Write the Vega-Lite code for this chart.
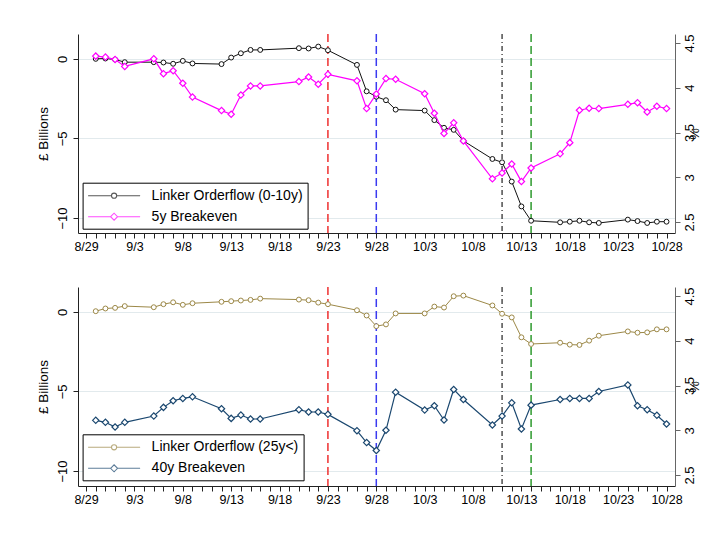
{
  "$schema": "https://vega.github.io/schema/vega-lite/v6.json",
  "background": "white",
  "padding": {"top": 33, "left": 36, "right": 0, "bottom": 0},
  "config": {
    "font": "Liberation Sans",
    "view": {"stroke": null},
    "axis": {"labelFont": "Liberation Sans", "titleFont": "Liberation Sans", "titleFontWeight": "normal", "labelColor": "#000", "titleColor": "#000", "domainColor": "#222", "tickColor": "#222", "tickSize": 5},
    "legend": {"labelFont": "Liberation Sans"}
  },
  "datasets": {
    "d": [
      {"date": "2022-08-30", "lo10": 0.0, "be5": 4.353, "lo25": 0.04, "be40": 3.111},
      {"date": "2022-08-31", "lo10": 0.02, "be5": 4.342, "lo25": 0.21, "be40": 3.089},
      {"date": "2022-09-01", "lo10": -0.04, "be5": 4.316, "lo25": 0.25, "be40": 3.037},
      {"date": "2022-09-02", "lo10": -0.21, "be5": 4.238, "lo25": 0.36, "be40": 3.089},
      {"date": "2022-09-05", "lo10": -0.21, "be5": 4.323, "lo25": 0.29, "be40": 3.159},
      {"date": "2022-09-06", "lo10": -0.23, "be5": 4.157, "lo25": 0.48, "be40": 3.256},
      {"date": "2022-09-07", "lo10": -0.31, "be5": 4.19, "lo25": 0.6, "be40": 3.33},
      {"date": "2022-09-08", "lo10": -0.13, "be5": 4.05, "lo25": 0.44, "be40": 3.356},
      {"date": "2022-09-09", "lo10": -0.29, "be5": 3.896, "lo25": 0.54, "be40": 3.374},
      {"date": "2022-09-12", "lo10": -0.33, "be5": 3.745, "lo25": 0.63, "be40": 3.241},
      {"date": "2022-09-13", "lo10": 0.08, "be5": 3.704, "lo25": 0.67, "be40": 3.133},
      {"date": "2022-09-14", "lo10": 0.35, "be5": 3.918, "lo25": 0.71, "be40": 3.17},
      {"date": "2022-09-15", "lo10": 0.56, "be5": 4.02, "lo25": 0.75, "be40": 3.126},
      {"date": "2022-09-16", "lo10": 0.56, "be5": 4.02, "lo25": 0.83, "be40": 3.126},
      {"date": "2022-09-20", "lo10": 0.67, "be5": 4.069, "lo25": 0.77, "be40": 3.23},
      {"date": "2022-09-21", "lo10": 0.65, "be5": 4.12, "lo25": 0.73, "be40": 3.204},
      {"date": "2022-09-22", "lo10": 0.77, "be5": 4.04, "lo25": 0.58, "be40": 3.204},
      {"date": "2022-09-23", "lo10": 0.54, "be5": 4.15, "lo25": 0.48, "be40": 3.178},
      {"date": "2022-09-26", "lo10": -0.38, "be5": 4.077, "lo25": 0.1, "be40": 2.996},
      {"date": "2022-09-27", "lo10": -2.04, "be5": 3.767, "lo25": -0.23, "be40": 2.863},
      {"date": "2022-09-28", "lo10": -2.38, "be5": 3.93, "lo25": -0.9, "be40": 2.774},
      {"date": "2022-09-29", "lo10": -2.6, "be5": 4.102, "lo25": -0.79, "be40": 3.0},
      {"date": "2022-09-30", "lo10": -3.19, "be5": 4.095, "lo25": -0.1, "be40": 3.426},
      {"date": "2022-10-03", "lo10": -3.25, "be5": 3.933, "lo25": -0.1, "be40": 3.226},
      {"date": "2022-10-04", "lo10": -3.85, "be5": 3.715, "lo25": 0.33, "be40": 3.274},
      {"date": "2022-10-05", "lo10": -4.33, "be5": 3.49, "lo25": 0.27, "be40": 3.115},
      {"date": "2022-10-06", "lo10": -4.46, "be5": 3.608, "lo25": 0.98, "be40": 3.456},
      {"date": "2022-10-07", "lo10": -5.15, "be5": 3.406, "lo25": 1.02, "be40": 3.344},
      {"date": "2022-10-10", "lo10": -6.29, "be5": 2.983, "lo25": 0.4, "be40": 3.059},
      {"date": "2022-10-11", "lo10": -6.5, "be5": 3.049, "lo25": -0.12, "be40": 3.159},
      {"date": "2022-10-12", "lo10": -7.71, "be5": 3.148, "lo25": -0.35, "be40": 3.307},
      {"date": "2022-10-13", "lo10": -9.27, "be5": 2.953, "lo25": -1.6, "be40": 3.015},
      {"date": "2022-10-14", "lo10": -10.17, "be5": 3.104, "lo25": -2.02, "be40": 3.281},
      {"date": "2022-10-17", "lo10": -10.27, "be5": 3.262, "lo25": -1.94, "be40": 3.344},
      {"date": "2022-10-18", "lo10": -10.23, "be5": 3.387, "lo25": -2.06, "be40": 3.356},
      {"date": "2022-10-19", "lo10": -10.17, "be5": 3.749, "lo25": -2.08, "be40": 3.356},
      {"date": "2022-10-20", "lo10": -10.27, "be5": 3.771, "lo25": -1.81, "be40": 3.356},
      {"date": "2022-10-21", "lo10": -10.31, "be5": 3.767, "lo25": -1.5, "be40": 3.433},
      {"date": "2022-10-24", "lo10": -10.1, "be5": 3.815, "lo25": -1.23, "be40": 3.507},
      {"date": "2022-10-25", "lo10": -10.19, "be5": 3.833, "lo25": -1.31, "be40": 3.274},
      {"date": "2022-10-26", "lo10": -10.31, "be5": 3.73, "lo25": -1.29, "be40": 3.23},
      {"date": "2022-10-27", "lo10": -10.23, "be5": 3.793, "lo25": -1.1, "be40": 3.167},
      {"date": "2022-10-28", "lo10": -10.23, "be5": 3.767, "lo25": -1.1, "be40": 3.07}
    ],
    "events": [
      {"date": "2022-09-23", "event": "Mini-budget"},
      {"date": "2022-09-28", "event": "BoE intervention"},
      {"date": "2022-10-11", "event": "Linkers added"},
      {"date": "2022-10-14", "event": "Intervention ends"}
    ]
  },
  "spacing": 33,
  "resolve": {"scale": {"y": "independent", "color": "independent", "shape": "independent"}, "legend": {"color": "independent", "shape": "independent"}},
  "vconcat": [
    {
      "width": 597,
      "height": 199,
      "resolve": {"scale": {"y": "independent"}, "axis": {"y": "independent"}},
      "encoding": {
        "x": {
          "field": "date", "type": "temporal",
          "scale": {"type": "utc", "domain": [{"year": 2022, "month": 8, "date": 28, "hours": 4, "utc": true}, {"year": 2022, "month": 10, "date": 28, "hours": 21, "utc": true}], "nice": false},
          "axis": {"title": null, "tickCount": {"interval": "day", "step": 1}, "labelOverlap": false, "labelFlush": false, "labelFontSize": 12.5, "labelPadding": 2, "grid": false,
                   "labelExpr": "(round((datum.value - 1661731200000) / 86400000) % 5 == 0) ? utcFormat(datum.value, '%-m/%-d') : ''"}
        }
      },
      "layer": [
        {"data": {"name": "events"}, "transform": [{"filter": "datum.event == 'Mini-budget'"}], "mark": {"type": "rule", "color": "#ee3030", "strokeWidth": 1.5, "strokeDash": [8, 4]}, "encoding": {}},
        {"data": {"name": "events"}, "transform": [{"filter": "datum.event == 'BoE intervention'"}], "mark": {"type": "rule", "color": "#3a3af0", "strokeWidth": 1.5, "strokeDash": [8, 4]}, "encoding": {}},
        {"data": {"name": "events"}, "transform": [{"filter": "datum.event == 'Linkers added'"}], "mark": {"type": "rule", "color": "#222", "strokeWidth": 1.2, "strokeDash": [5, 3, 1, 3]}, "encoding": {}},
        {"data": {"name": "events"}, "transform": [{"filter": "datum.event == 'Intervention ends'"}], "mark": {"type": "rule", "color": "#2e9a2e", "strokeWidth": 1.5, "strokeDash": [8, 4]}, "encoding": {}},
        {
          "data": {"name": "d"},
          "mark": {"type": "line", "color": "#111", "strokeWidth": 1, "point": {"filled": true, "fill": "white", "stroke": "#111", "strokeWidth": 1, "shape": "circle", "size": 24}},
          "encoding": {
            "y": {"field": "lo10", "type": "quantitative", "scale": {"domain": [-10.94, 1.56], "nice": false, "zero": false},
                  "axis": {"orient": "left", "values": [0, -5, -10], "title": "£ Billions", "titleFontSize": 13.5, "titlePadding": 6, "labelFontSize": 13, "labelAngle": 270, "labelAlign": "center", "labelBaseline": "bottom", "labelPadding": 4, "grid": true, "gridColor": "#e2eaed", "gridWidth": 1}}
          }
        },
        {
          "data": {"name": "d"},
          "mark": {"type": "line", "color": "#ff00ff", "strokeWidth": 1.2, "point": {"filled": true, "fill": "white", "stroke": "#ff00ff", "strokeWidth": 1.2, "shape": "diamond", "size": 40}},
          "encoding": {
            "y": {"field": "be5", "type": "quantitative", "scale": {"domain": [2.378, 4.6], "nice": false, "zero": false},
                  "axis": {"orient": "right", "values": [2.5, 3, 3.5, 4, 4.5], "format": "~g", "title": "%", "titleAngle": 270, "titleFontSize": 13, "titlePadding": 5, "labelFontSize": 13, "labelAngle": 270, "labelAlign": "center", "labelBaseline": "top", "labelPadding": 3, "grid": false, "domainColor": "#666", "tickColor": "#666"}}
          }
        },
        {
          "data": {"values": [{"series": "Linker Orderflow (0-10y)"}, {"series": "5y Breakeven"}]},
          "transform": [{"filter": "false"}],
          "mark": {"type": "point", "filled": false, "size": 196, "strokeWidth": 1},
          "encoding": {
            "color": {"field": "series", "type": "nominal", "scale": {"domain": ["Linker Orderflow (0-10y)", "5y Breakeven"], "range": ["#111", "#ff00ff"]},
                      "legend": {"title": null, "orient": "none", "legendX": 4.6, "legendY": 148.7, "fillColor": "white", "strokeColor": "#000", "padding": 5, "rowPadding": 6, "labelFontSize": 14, "labelOffset": 48, "symbolSize": 196, "symbolStrokeWidth": 1.1, "symbolFillColor": "white"}},
            "shape": {"field": "series", "type": "nominal", "scale": {"domain": ["Linker Orderflow (0-10y)", "5y Breakeven"], "range": ["M-1.07,0L2.27,0M3.01,0L6.36,0M2.27,0A0.37,0.37,0,1,1,3.01,0A0.37,0.37,0,1,1,2.27,0Z", "M-1.07,0L2.14,0M3.14,0L6.36,0M2.14,0L2.64,-0.5L3.14,0L2.64,0.5Z"]}}
          }
        }
      ]
    },
    {
      "width": 597,
      "height": 199,
      "resolve": {"scale": {"y": "independent"}, "axis": {"y": "independent"}},
      "encoding": {
        "x": {
          "field": "date", "type": "temporal",
          "scale": {"type": "utc", "domain": [{"year": 2022, "month": 8, "date": 28, "hours": 4, "utc": true}, {"year": 2022, "month": 10, "date": 28, "hours": 21, "utc": true}], "nice": false},
          "axis": {"title": null, "tickCount": {"interval": "day", "step": 1}, "labelOverlap": false, "labelFlush": false, "labelFontSize": 12.5, "labelPadding": 2, "grid": false,
                   "labelExpr": "(round((datum.value - 1661731200000) / 86400000) % 5 == 0) ? utcFormat(datum.value, '%-m/%-d') : ''"}
        }
      },
      "layer": [
        {"data": {"name": "events"}, "transform": [{"filter": "datum.event == 'Mini-budget'"}], "mark": {"type": "rule", "color": "#ee3030", "strokeWidth": 1.5, "strokeDash": [8, 4]}, "encoding": {}},
        {"data": {"name": "events"}, "transform": [{"filter": "datum.event == 'BoE intervention'"}], "mark": {"type": "rule", "color": "#3a3af0", "strokeWidth": 1.5, "strokeDash": [8, 4]}, "encoding": {}},
        {"data": {"name": "events"}, "transform": [{"filter": "datum.event == 'Linkers added'"}], "mark": {"type": "rule", "color": "#222", "strokeWidth": 1.2, "strokeDash": [5, 3, 1, 3]}, "encoding": {}},
        {"data": {"name": "events"}, "transform": [{"filter": "datum.event == 'Intervention ends'"}], "mark": {"type": "rule", "color": "#2e9a2e", "strokeWidth": 1.5, "strokeDash": [8, 4]}, "encoding": {}},
        {
          "data": {"name": "d"},
          "mark": {"type": "line", "color": "#9c8847", "strokeWidth": 1, "point": {"filled": true, "fill": "white", "stroke": "#9c8847", "strokeWidth": 1, "shape": "circle", "size": 24}},
          "encoding": {
            "y": {"field": "lo25", "type": "quantitative", "scale": {"domain": [-10.94, 1.56], "nice": false, "zero": false},
                  "axis": {"orient": "left", "values": [0, -5, -10], "title": "£ Billions", "titleFontSize": 13.5, "titlePadding": 6, "labelFontSize": 13, "labelAngle": 270, "labelAlign": "center", "labelBaseline": "bottom", "labelPadding": 4, "grid": true, "gridColor": "#e2eaed", "gridWidth": 1}}
          }
        },
        {
          "data": {"name": "d"},
          "mark": {"type": "line", "color": "#1a476f", "strokeWidth": 1.2, "point": {"filled": true, "fill": "white", "stroke": "#1a476f", "strokeWidth": 1.2, "shape": "diamond", "size": 40}},
          "encoding": {
            "y": {"field": "be40", "type": "quantitative", "scale": {"domain": [2.378, 4.6], "nice": false, "zero": false},
                  "axis": {"orient": "right", "values": [2.5, 3, 3.5, 4, 4.5], "format": "~g", "title": "%", "titleAngle": 270, "titleFontSize": 13, "titlePadding": 5, "labelFontSize": 13, "labelAngle": 270, "labelAlign": "center", "labelBaseline": "top", "labelPadding": 3, "grid": false, "domainColor": "#666", "tickColor": "#666"}}
          }
        },
        {
          "data": {"values": [{"series": "Linker Orderflow (25y<)"}, {"series": "40y Breakeven"}]},
          "transform": [{"filter": "false"}],
          "mark": {"type": "point", "filled": false, "size": 196, "strokeWidth": 1},
          "encoding": {
            "color": {"field": "series", "type": "nominal", "scale": {"domain": ["Linker Orderflow (25y<)", "40y Breakeven"], "range": ["#9c8847", "#1a476f"]},
                      "legend": {"title": null, "orient": "none", "legendX": 4.6, "legendY": 147.3, "fillColor": "white", "strokeColor": "#000", "padding": 5, "rowPadding": 6, "labelFontSize": 14, "labelOffset": 48, "symbolSize": 196, "symbolStrokeWidth": 1.1, "symbolFillColor": "white"}},
            "shape": {"field": "series", "type": "nominal", "scale": {"domain": ["Linker Orderflow (25y<)", "40y Breakeven"], "range": ["M-1.07,0L2.27,0M3.01,0L6.36,0M2.27,0A0.37,0.37,0,1,1,3.01,0A0.37,0.37,0,1,1,2.27,0Z", "M-1.07,0L2.14,0M3.14,0L6.36,0M2.14,0L2.64,-0.5L3.14,0L2.64,0.5Z"]}}
          }
        }
      ]
    }
  ]
}
